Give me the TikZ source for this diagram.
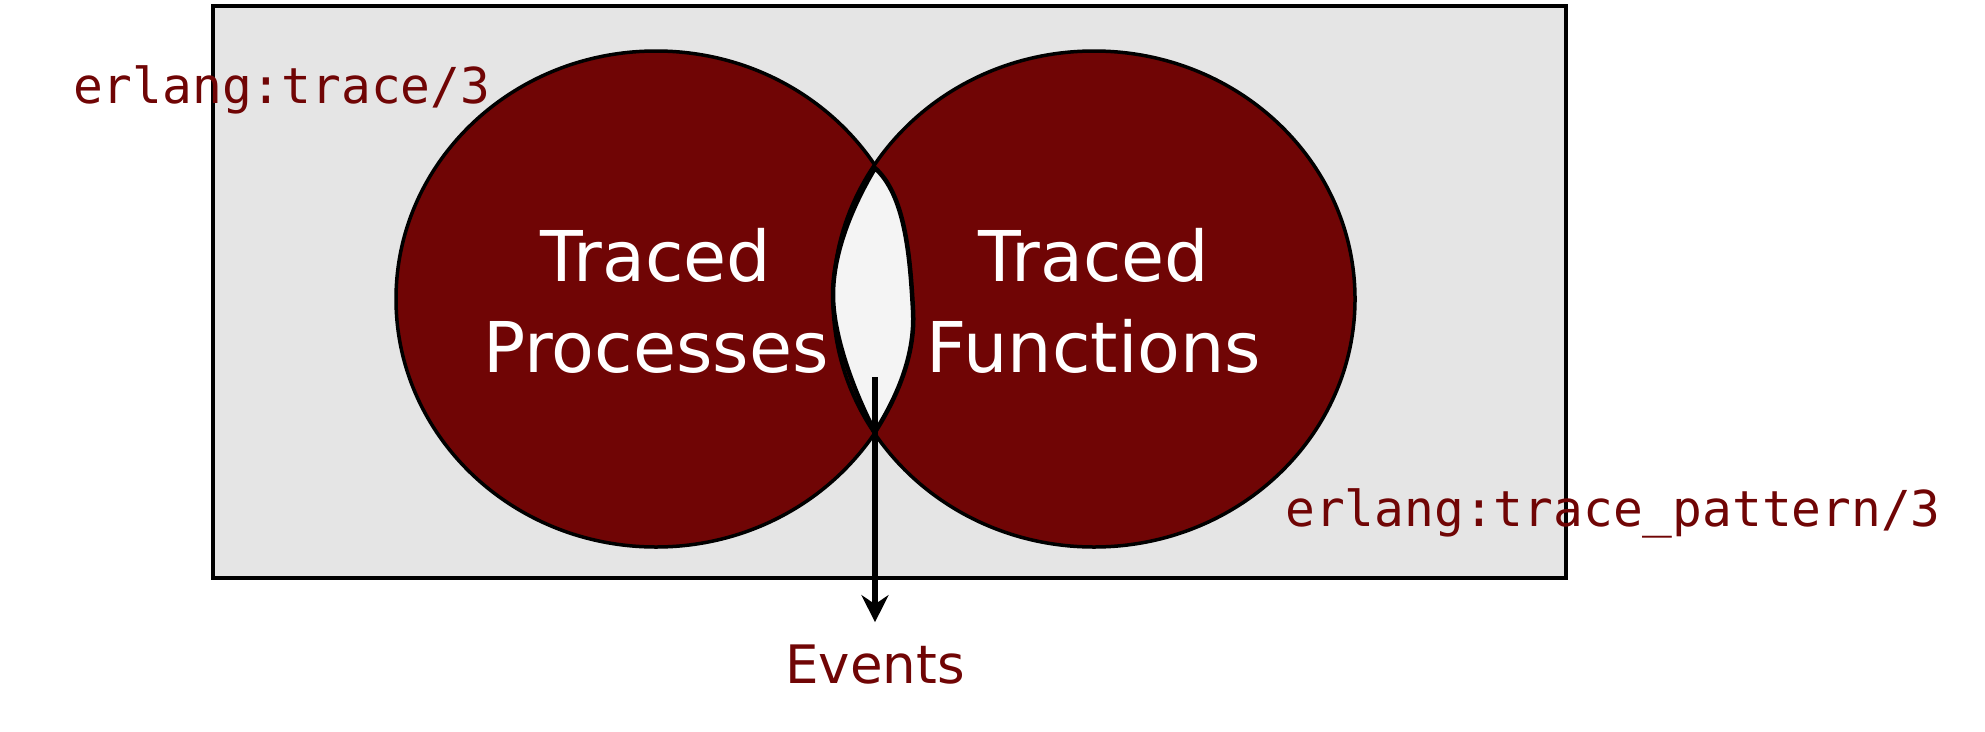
\documentclass[tikz,border=0pt]{standalone}
\usepackage{fontspec}
\setmainfont{DejaVu Sans}
\setmonofont{DejaVu Sans Mono}
\usetikzlibrary{arrows.meta}
\definecolor{erlred}{RGB}{112,5,5}
\definecolor{boxgray}{RGB}{229,229,229}
\definecolor{lensfill}{RGB}{244,244,244}
\tikzset{
  setbox/.style={draw=black,fill=boxgray,line width=3.5pt},
  setcircle/.style={draw=black,fill=erlred,line width=3.5pt},
  lensstyle/.style={draw=black,fill=lensfill,line width=4.5pt,line join=round},
  bigwhite/.style={text=white,inner sep=0pt,anchor=base,font=\fontsize{70}{84}\selectfont},
  codelabel/.style={text=erlred,inner sep=0pt,anchor=base west,font=\ttfamily\fontsize{49.5}{60}\selectfont},
  evlabel/.style={text=erlred,inner sep=0pt,anchor=base,font=\fontsize{53}{64}\selectfont},
  flow/.style={line width=5.5pt,-{Stealth[length=27pt,width=27pt,inset=9pt]}}
}
\begin{document}
\begin{tikzpicture}[x=1pt,y=-1pt]
\useasboundingbox (0,0) rectangle (1985,731);
\draw[setbox] (213,6) rectangle (1566,578);
\draw[setcircle] (656,299) ellipse [x radius=260, y radius=248];
\draw[setcircle] (1094,299) ellipse [x radius=261, y radius=248];
\draw[lensstyle] (875,168) .. controls (850,210) and (833,255) .. (833,295)
  .. controls (833,340) and (858,400) .. (875,432)
  .. controls (892,405) and (916,360) .. (913,310)
  .. controls (910,255) and (905,195) .. (875,168) -- cycle;
\node[bigwhite] (tp1) at (656,281) {Traced};
\node[bigwhite] (tp2) at (656,372) {Processes};
\node[bigwhite] (tf1) at (1094,281) {Traced};
\node[bigwhite] (tf2) at (1094,372) {Functions};
\node[codelabel] (tr) at (73,103) {erlang:trace/3};
\node[codelabel] (tpat) at (1285,526) {erlang:trace\_pattern/3};
\node[evlabel] (ev) at (875,683) {Events};
\coordinate (src) at (875,377);
\draw[flow,shorten >=22pt] (src) -- (ev.north);
\end{tikzpicture}
\end{document}
